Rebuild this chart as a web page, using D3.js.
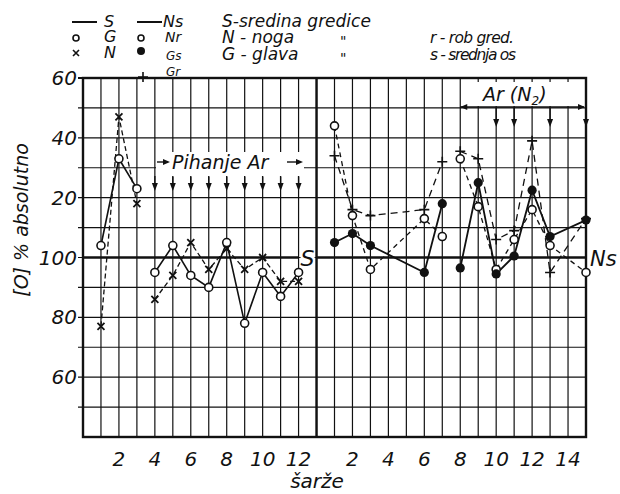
<!DOCTYPE html>
<html>
<head>
<meta charset="utf-8">
<script src="https://cdn.jsdelivr.net/npm/d3@7"></script>
<style>
  body { margin: 0; background: #fff; }
  svg text { font-family: "DejaVu Sans", sans-serif; font-style: italic; fill: #111; }
</style>
</head>
<body>
<svg id="chart" width="620" height="494"></svg>
<script>
/* left block: S - sredina gredice, G - glava, N - noga */
var leftCharges = [1, 2, 3, 4, 5, 6, 7, 8, 9, 10, 11, 12];
var leftRuns    = [[0, 3], [3, 12]];
var G  = [104, 133, 123, 95, 104, 94, 90, 105, 78, 95, 87, 95];
var N  = [77, 147, 118, 86, 94, 105, 96, 103, 96, 100, 92, 92];

/* right block: Ns, Nr, Gs, Gr */
var rightCharges = [1, 2, 3, 6, 7, 8, 9, 10, 11, 12, 13, 15];
var rightRuns    = [[0, 5], [5, 12]];
var Nr = [144, 114, 96, 113, 107, 133, 117, 96, 106, 116, 104, 95];
var Gs = [105, 108, 104, 95, 118, 96.5, 125, 94.5, 100.5, 122.5, 107, 112.5];
var Gr = [134, 116, 114, 116, 132, 135.5, 133, 106, 109, 139, 95, 113];

var leftTicks  = [2, 4, 6, 8, 10, 12];
var rightTicks = [2, 4, 6, 8, 10, 12, 14];
var yTicks     = [60, 80, 100, 120, 140, 160];

var pihanjeArrows = [4, 5, 6, 7, 8, 9, 10, 11, 12];
var arArrows      = [10, 11, 13, 15];

(function () {
var svg = d3.select('#chart');
var pLeft = 83, pRight = 586, pTop = 78, pBottom = 437;
var split = 13;   /* left block has 13 steps, right one 15 */

var x = d3.scaleLinear().domain([0, 28]).range([pLeft, pRight]);
var y = d3.scaleLinear().domain([40, 160]).range([pBottom, pTop]);
var xl = function (c) { return x(c); },
    xr = function (c) { return x(split + c); };

var ink = '#111';

/* grid */
var grid = svg.append('g').attr('stroke', ink).attr('stroke-width', 1.2);
grid.selectAll('line.v')
  .data(d3.range(1, 28))
  .enter().append('line')
  .attr('x1', function (d) { return x(d); })
  .attr('x2', function (d) { return x(d); })
  .attr('y1', pTop).attr('y2', pBottom);
grid.selectAll('line.h')
  .data(d3.range(50, 160, 10))
  .enter().append('line')
  .attr('x1', pLeft - 5).attr('x2', pRight)
  .attr('y1', function (d) { return y(d); })
  .attr('y2', function (d) { return y(d); });

/* heavy frame, divider and the 100 % lines */
svg.append('rect')
  .attr('x', pLeft).attr('y', pTop)
  .attr('width', pRight - pLeft).attr('height', pBottom - pTop)
  .attr('fill', 'none').attr('stroke', ink).attr('stroke-width', 2.4);
svg.append('line')
  .attr('x1', pLeft - 5).attr('x2', pLeft)
  .attr('y1', pTop).attr('y2', pTop)
  .attr('stroke', ink).attr('stroke-width', 2);
svg.append('line')
  .attr('x1', x(split)).attr('x2', x(split))
  .attr('y1', pTop).attr('y2', pBottom)
  .attr('stroke', ink).attr('stroke-width', 2.4);
svg.append('line')
  .attr('x1', pLeft).attr('x2', x(12))
  .attr('y1', y(100)).attr('y2', y(100))
  .attr('stroke', ink).attr('stroke-width', 2.6);
svg.append('line')
  .attr('x1', x(split)).attr('x2', pRight)
  .attr('y1', y(100)).attr('y2', y(100))
  .attr('stroke', ink).attr('stroke-width', 2.6);

/* y labels: above 100 the scale is read as 20, 40, 60 over it */
svg.selectAll('text.yl')
  .data(yTicks)
  .enter().append('text')
  .attr('x', pLeft - 6)
  .attr('y', function (d) { return y(d) + 7; })
  .attr('text-anchor', 'end')
  .attr('font-size', 20)
  .text(function (d) { return d > 100 ? d - 100 : d; });

svg.append('text')
  .attr('transform', 'translate(28,220) rotate(-90)')
  .attr('text-anchor', 'middle')
  .attr('font-size', 19)
  .text('[O] % absolutno');

/* x labels */
svg.selectAll('text.xl')
  .data(leftTicks)
  .enter().append('text')
  .attr('x', function (d) { return xl(d); })
  .attr('y', 466)
  .attr('text-anchor', 'middle')
  .attr('font-size', 20)
  .text(function (d) { return d; });
svg.selectAll('text.xr')
  .data(rightTicks)
  .enter().append('text')
  .attr('x', function (d) { return xr(d); })
  .attr('y', 466)
  .attr('text-anchor', 'middle')
  .attr('font-size', 20)
  .text(function (d) { return d; });
svg.append('text')
  .attr('x', 317).attr('y', 488)
  .attr('text-anchor', 'middle')
  .attr('font-size', 20)
  .text('šarže');

/* S and Ns tags at the 100 % lines */
svg.append('rect')
  .attr('x', x(12) + 2).attr('y', y(100) - 10)
  .attr('width', 14).attr('height', 20).attr('fill', '#fff');
svg.append('text')
  .attr('x', x(12) + 2).attr('y', y(100) + 8)
  .attr('font-size', 22)
  .text('S');
svg.append('text')
  .attr('x', pRight + 4).attr('y', y(100) + 8)
  .attr('font-size', 21)
  .text('Ns');

/* arrow helpers */
function downArrow(g, px, y0, y1) {
  g.append('line')
    .attr('x1', px).attr('x2', px)
    .attr('y1', y0).attr('y2', y1 - 6)
    .attr('stroke', ink).attr('stroke-width', 1.4);
  g.append('path')
    .attr('d', 'M' + (px - 3) + ',' + (y1 - 8) + 'L' + (px + 3) + ',' + (y1 - 8) + 'L' + px + ',' + y1 + 'Z')
    .attr('fill', ink);
}
function rightHead(g, px, py) {
  g.append('path')
    .attr('d', 'M' + (px - 7) + ',' + (py - 3) + 'L' + px + ',' + py + 'L' + (px - 7) + ',' + (py + 3) + 'Z')
    .attr('fill', ink);
}
function leftHead(g, px, py) {
  g.append('path')
    .attr('d', 'M' + (px + 7) + ',' + (py - 3) + 'L' + px + ',' + py + 'L' + (px + 7) + ',' + (py + 3) + 'Z')
    .attr('fill', ink);
}

/* Pihanje Ar */
var ann = svg.append('g');
ann.append('rect')
  .attr('x', 156).attr('y', 152)
  .attr('width', 148).attr('height', 25).attr('fill', '#fff');
ann.append('line')
  .attr('x1', 157).attr('x2', 168).attr('y1', 162).attr('y2', 162)
  .attr('stroke', ink).attr('stroke-width', 1.4);
rightHead(ann, 170, 162);
ann.append('text')
  .attr('x', 172).attr('y', 169)
  .attr('font-size', 19)
  .text('Pihanje Ar');
ann.append('line')
  .attr('x1', 287).attr('x2', 298).attr('y1', 162).attr('y2', 162)
  .attr('stroke', ink).attr('stroke-width', 1.4);
rightHead(ann, 303, 162);
pihanjeArrows.forEach(function (c) { downArrow(ann, xl(c), 176, 191); });

/* Ar (N2) */
ann.append('rect')
  .attr('x', 466).attr('y', 82)
  .attr('width', 112).attr('height', 24).attr('fill', '#fff');
ann.append('line')
  .attr('x1', xr(8)).attr('x2', pRight - 2)
  .attr('y1', 107).attr('y2', 107)
  .attr('stroke', ink).attr('stroke-width', 1.4);
leftHead(ann, xr(8), 107);
rightHead(ann, pRight - 1, 107);
var arText = ann.append('text')
  .attr('x', 483).attr('y', 101)
  .attr('font-size', 19);
arText.append('tspan').text('Ar (N');
arText.append('tspan').attr('font-size', 12).attr('dy', 4).text('2');
arText.append('tspan').attr('dy', -4).text(')');
arArrows.forEach(function (c) { downArrow(ann, xr(c), 108, 127); });

/* series */
function drawSeries(charges, runs, values, xf, dash, width) {
  var line = d3.line()
    .x(function (d) { return xf(d[0]); })
    .y(function (d) { return y(d[1]); });
  runs.forEach(function (r) {
    var pts = d3.range(r[0], r[1]).map(function (i) { return [charges[i], values[i]]; });
    svg.append('path')
      .datum(pts)
      .attr('d', line)
      .attr('fill', 'none')
      .attr('stroke', ink)
      .attr('stroke-width', width)
      .attr('stroke-dasharray', dash);
  });
}

function drawMarks(charges, values, xf, kind) {
  var g = svg.append('g');
  charges.forEach(function (c, i) {
    var px = xf(c), py = y(values[i]);
    if (kind === 'circle') {
      g.append('circle').attr('cx', px).attr('cy', py).attr('r', 4)
        .attr('fill', '#fff').attr('stroke', ink).attr('stroke-width', 1.6);
    } else if (kind === 'dot') {
      g.append('circle').attr('cx', px).attr('cy', py).attr('r', 4.6)
        .attr('fill', ink);
    } else if (kind === 'cross') {
      g.append('path')
        .attr('d', 'M' + (px - 3.5) + ',' + (py - 3.5) + 'L' + (px + 3.5) + ',' + (py + 3.5) +
                   'M' + (px + 3.5) + ',' + (py - 3.5) + 'L' + (px - 3.5) + ',' + (py + 3.5))
        .attr('stroke', ink).attr('stroke-width', 1.8);
    } else {
      g.append('path')
        .attr('d', 'M' + (px - 5) + ',' + py + 'L' + (px + 5) + ',' + py +
                   'M' + px + ',' + (py - 5) + 'L' + px + ',' + (py + 5))
        .attr('stroke', ink).attr('stroke-width', 1.6);
    }
  });
}

drawSeries(leftCharges, leftRuns, N, xl, '5,3', 1.3);
drawSeries(leftCharges, leftRuns, G, xl, null, 1.6);
drawSeries(rightCharges, rightRuns, Gr, xr, '7,5', 1.3);
drawSeries(rightCharges, rightRuns, Nr, xr, '5,4', 1.3);
drawSeries(rightCharges, rightRuns, Gs, xr, null, 1.8);

drawMarks(leftCharges, N, xl, 'cross');
drawMarks(leftCharges, G, xl, 'circle');
drawMarks(rightCharges, Gr, xr, 'plus');
drawMarks(rightCharges, Nr, xr, 'circle');
drawMarks(rightCharges, Gs, xr, 'dot');

/* legend */
var lg = svg.append('g');
lg.append('line').attr('x1', 72).attr('x2', 97).attr('y1', 22).attr('y2', 22)
  .attr('stroke', ink).attr('stroke-width', 2);
lg.append('line').attr('x1', 137).attr('x2', 162).attr('y1', 22).attr('y2', 22)
  .attr('stroke', ink).attr('stroke-width', 2);
lg.append('text').attr('x', 104).attr('y', 27).attr('font-size', 16).text('S');
lg.append('text').attr('x', 163).attr('y', 27).attr('font-size', 16).text('Ns');
lg.append('circle').attr('cx', 76).attr('cy', 38).attr('r', 3)
  .attr('fill', '#fff').attr('stroke', ink).attr('stroke-width', 1.6);
lg.append('text').attr('x', 104).attr('y', 42).attr('font-size', 16).text('G');
lg.append('circle').attr('cx', 141).attr('cy', 38).attr('r', 3)
  .attr('fill', '#fff').attr('stroke', ink).attr('stroke-width', 1.6);
lg.append('text').attr('x', 165).attr('y', 42).attr('font-size', 14).text('Nr');
lg.append('path').attr('d', 'M73,50L79,56M79,50L73,56')
  .attr('stroke', ink).attr('stroke-width', 1.6);
lg.append('text').attr('x', 104).attr('y', 58).attr('font-size', 16).text('N');
lg.append('circle').attr('cx', 141).attr('cy', 51).attr('r', 4).attr('fill', ink);
lg.append('text').attr('x', 166).attr('y', 60).attr('font-size', 12).text('Gs');
lg.append('path').attr('d', 'M138,77L148,77M143,72L143,82')
  .attr('stroke', ink).attr('stroke-width', 1.6);
lg.append('text').attr('x', 166).attr('y', 76).attr('font-size', 12).text('Gr');

lg.append('text').attr('x', 222).attr('y', 27).attr('font-size', 17).text('S-sredina gredice');
lg.append('text').attr('x', 222).attr('y', 43).attr('font-size', 17).text('N - noga');
lg.append('text').attr('x', 222).attr('y', 60).attr('font-size', 17).text('G - glava');
lg.append('text').attr('x', 340).attr('y', 46).attr('font-size', 14).text('"');
lg.append('text').attr('x', 340).attr('y', 63).attr('font-size', 14).text('"');
lg.append('text').attr('x', 430).attr('y', 43).attr('font-size', 15.5)
  .attr('textLength', 84).text('r - rob gred.');
lg.append('text').attr('x', 430).attr('y', 60).attr('font-size', 15.5)
  .attr('textLength', 86).text('s - srednja os');
})();
</script>
</body>
</html>
